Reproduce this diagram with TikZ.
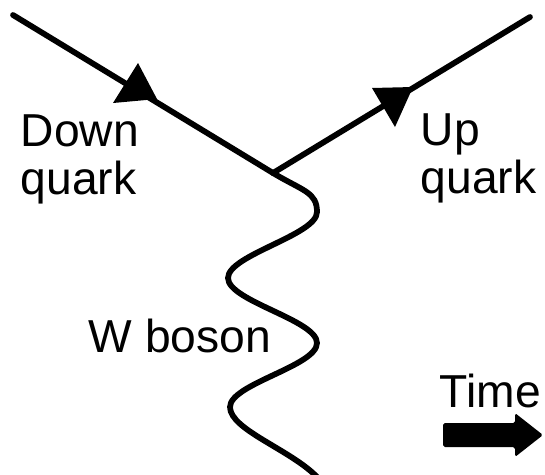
\documentclass[tikz,border=0pt]{standalone}
\usepackage{fontspec}
\setmainfont{Liberation Sans}

\begin{document}
\begin{tikzpicture}[x=0.02cm, y=-0.02cm, line width=0.115cm, line cap=round,
  etiqueta/.style={inner sep=0pt, align=left, font=\fontsize{26.3}{27}\selectfont}]
  \useasboundingbox (0,0) rectangle (545,474);
  \coordinate (D) at (13,15);
  \coordinate (V) at (273,173);
  \coordinate (U) at (530,17);
  \coordinate (W) at (318,478);
  \draw (D)--(V);
  \draw (V)--(U);
  % triángulos de los quarks
  \fill (138,63) -- (113,103) -- (157,99) -- cycle;
  \fill (372,88) -- (413,87) -- (395,127) -- cycle;
  % bosón W
  \draw (V) .. controls (303,191) and (317,192) .. (317,212)
        .. controls (317,235) and (228,255) .. (228,278)
        .. controls (228,301) and (317,320) .. (317,343)
        .. controls (317,366) and (230,384) .. (230,407)
        .. controls (230,430) and (292,450) .. (W);
  \node[etiqueta, anchor=north west] (dlab) at (18,112) {Down\\quark};
  \node[etiqueta, anchor=north west] (ulab) at (418,111) {Up\\quark};
  \node[etiqueta, anchor=base west] (wlab) at (86,352) {W boson};
  \node[etiqueta, anchor=base west] (tlab) at (437,407) {Time};
  % flecha del tiempo
  \fill[rounded corners=1pt] (443,423) -- (515,423) -- (515,413) -- (543,435)
    -- (515,457) -- (515,447) -- (443,447) -- cycle;
\end{tikzpicture}
\end{document}
